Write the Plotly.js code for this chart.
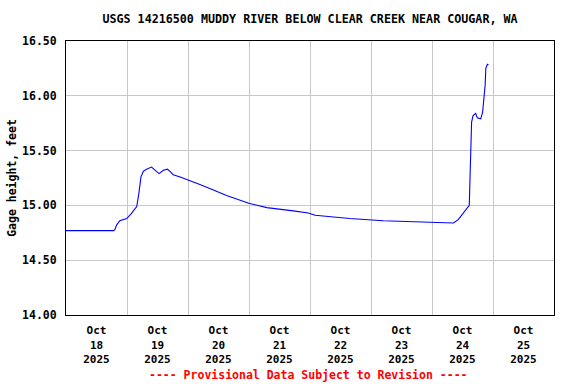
<!DOCTYPE html>
<html>
<head>
<meta charset="utf-8">
<script src="https://cdn.plot.ly/plotly-3.0.1.min.js"></script>
<style>html,body{margin:0;padding:0;background:#fff;}#chart{width:576px;height:384px;}</style>
</head>
<body>
<div id="chart"></div>
<script>
const times = [
  "2025-10-18 00:00","2025-10-18 18:45","2025-10-18 19:15","2025-10-18 19:55","2025-10-18 21:10","2025-10-18 23:55",
  "2025-10-19 01:50","2025-10-19 03:50","2025-10-19 04:40","2025-10-19 05:30","2025-10-19 06:25","2025-10-19 07:40",
  "2025-10-19 09:40","2025-10-19 11:00","2025-10-19 12:35","2025-10-19 14:20","2025-10-19 15:55","2025-10-19 16:55",
  "2025-10-19 18:10","2025-10-19 20:55","2025-10-19 23:55","2025-10-20 04:40","2025-10-20 10:00","2025-10-20 15:10",
  "2025-10-20 23:55","2025-10-21 07:00","2025-10-21 17:25","2025-10-21 23:20","2025-10-22 02:00","2025-10-22 15:40",
  "2025-10-23 04:50","2025-10-23 18:00","2025-10-24 08:25","2025-10-24 10:20","2025-10-24 12:20","2025-10-24 13:40",
  "2025-10-24 14:40","2025-10-24 15:00","2025-10-24 15:10","2025-10-24 15:35","2025-10-24 16:10","2025-10-24 17:10",
  "2025-10-24 17:50","2025-10-24 19:10","2025-10-24 19:55","2025-10-24 20:30","2025-10-24 20:55","2025-10-24 21:10",
  "2025-10-24 21:50","2025-10-24 22:10"
];
const gageHeight = [
  14.77,14.77,14.78,14.82,14.86,14.88,
  14.93,14.99,15.11,15.26,15.31,15.33,
  15.35,15.32,15.29,15.32,15.33,15.31,
  15.28,15.26,15.23,15.19,15.14,15.09,
  15.02,14.98,14.95,14.93,14.91,14.88,
  14.86,14.85,14.84,14.87,14.93,14.97,
  15.00,15.29,15.51,15.76,15.82,15.84,
  15.80,15.79,15.85,15.98,16.10,16.25,
  16.29,16.28
];
const titleText = "USGS 14216500 MUDDY RIVER BELOW CLEAR CREEK NEAR COUGAR, WA";
const yTitle = "Gage height, feet";
const footer = "---- Provisional Data Subject to Revision ----";

const FONT = "DejaVu Sans Mono";
const trace = {
  x: times, y: gageHeight, type: "scatter", mode: "lines",
  line: {color: "#0000ff", width: 1.1}, hoverinfo: "skip"
};
const layout = {
  width: 576, height: 384,
  margin: {l: 66, r: 22, t: 41, b: 69},
  paper_bgcolor: "#ffffff", plot_bgcolor: "#ffffff",
  showlegend: false,
  font: {family: FONT, size: 11, color: "#000000", weight: "bold"},
  title: {text: "<b>" + titleText + "</b>", x: 0.5, xanchor: "center", xref: "paper", y: 1 - 19/384, yanchor: "middle",
          font: {family: FONT, size: 11.7, color: "#000000"}},
  xaxis: {
    type: "date", range: ["2025-10-18 00:00", "2025-10-26 00:00"],
    tick0: "2025-10-18", dtick: 86400000, ticklabelmode: "period",
    tickformat: "<b>%b</b><br><b>%d</b><br><b>%Y</b>",
    showgrid: true, gridcolor: "#c8c8c8", gridwidth: 1,
    showline: true, linecolor: "#000000", linewidth: 1, mirror: true,
    ticks: "", zeroline: false, ticklabelstandoff: 5,
    tickfont: {family: FONT, size: 11, color: "#000000"}
  },
  yaxis: {
    range: [14, 16.5], dtick: 0.5, tick0: 14, tickformat: ".2f",
    showgrid: true, gridcolor: "#c8c8c8", gridwidth: 1,
    showline: true, linecolor: "#000000", linewidth: 1, mirror: true,
    ticks: "", zeroline: false, ticklabelstandoff: 6,
    tickfont: {family: FONT, size: 11.5, color: "#000000"},
    title: {text: "<b>" + yTitle + "</b>", standoff: 3, font: {family: FONT, size: 11.5, color: "#000000"}}
  },
  annotations: [{
    text: "<b>" + footer + "</b>", xref: "paper", yref: "paper",
    x: 0.497, y: -(375 - 315) / 274, xanchor: "center", yanchor: "middle", showarrow: false,
    font: {family: FONT, size: 11.5, color: "#ff0000"}
  }]
};
Plotly.newPlot("chart", [trace], layout, {staticPlot: true, displayModeBar: false});
</script>
</body>
</html>
